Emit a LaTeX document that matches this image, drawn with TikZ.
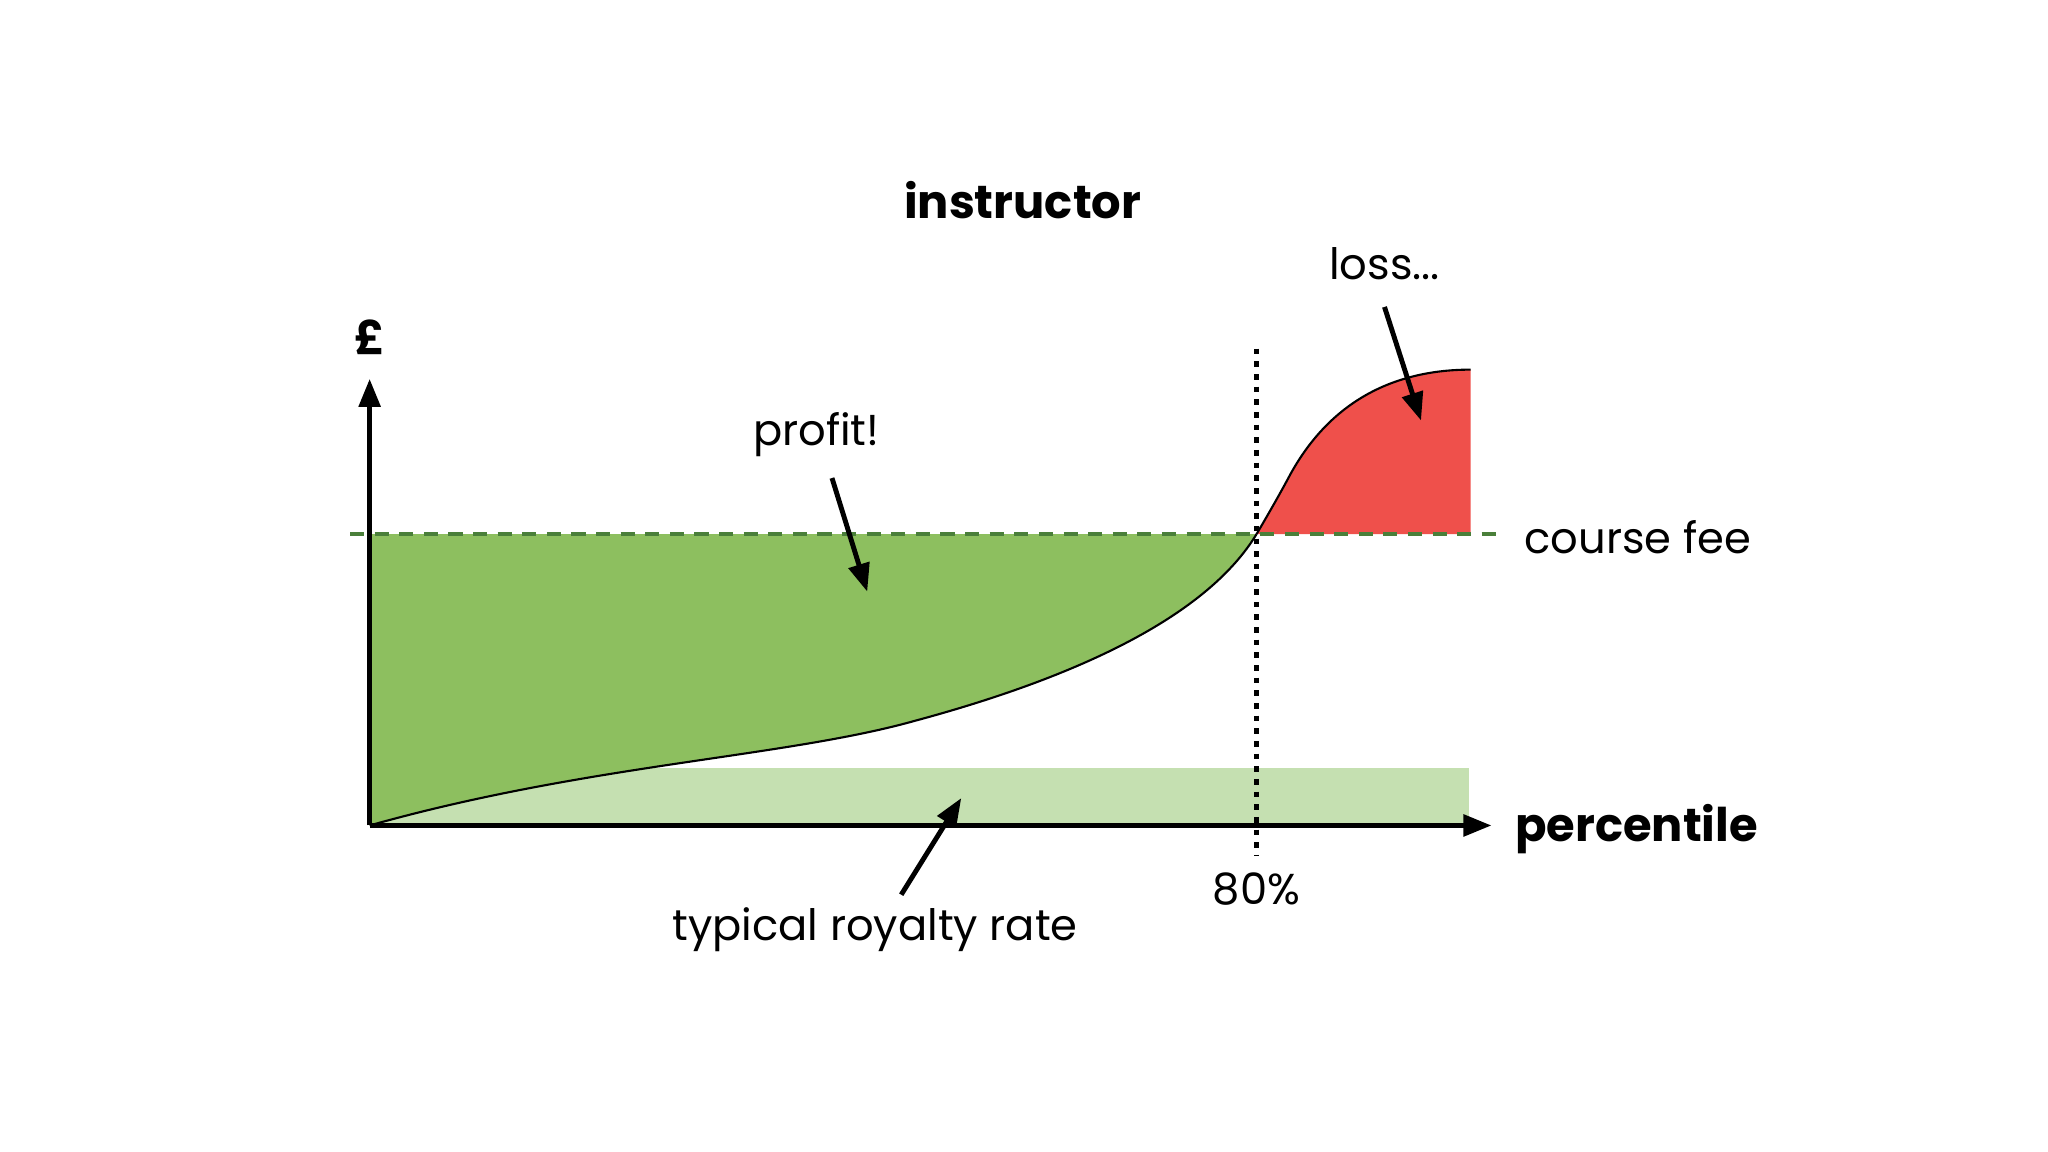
\documentclass[tikz,border=0pt]{standalone}
\usepackage{fontspec}
\setmainfont{Poppins}
\usetikzlibrary{arrows.meta}
\definecolor{gfill}{HTML}{8DBF5F}
\definecolor{lgfill}{HTML}{C5E0B1}
\definecolor{rfill}{HTML}{EF504B}
\definecolor{dgreen}{HTML}{4A7F3A}
\tikzset{lbl/.style={font=\fontsize{12.3}{15}\selectfont},
 blbl/.style={font=\fontsize{13.2}{15}\selectfont\bfseries},
 pointer/.style={-{Triangle[length=8pt,width=6pt]},line width=1.4pt}}
\begin{document}
\begin{tikzpicture}[x=0.013061cm,y=-0.013061cm]
\useasboundingbox (0,0) rectangle (1568,882);
\fill[lgfill] (283,588) rectangle (1125,632);
\coordinate (o) at (283,632);
\coordinate (c80) at (962,409);
\fill[gfill] (o) .. controls (450,585) and (600,580) .. (700,552) .. controls (830,517) and (925,470) .. (c80) -- (283,409) -- cycle;
\draw[line width=0.6pt] (o) .. controls (450,585) and (600,580) .. (700,552) .. controls (830,517) and (925,470) .. (c80);
\fill[rfill] (c80) .. controls (972,392) and (980,378) .. (988,363) .. controls (1020,305) and (1070,283) .. (1126,283) -- (1126,409) -- cycle;
\draw[line width=0.6pt] (c80) .. controls (972,392) and (980,378) .. (988,363) .. controls (1020,305) and (1070,283) .. (1126,283);
\draw[dgreen,line width=1.3pt,dash pattern=on 4pt off 3pt] (268,409) -- (1152,409);
\draw[dotted,line width=1.6pt] (962,267) -- (962,655);
\coordinate (yt) at (283,290);
\coordinate (xt) at (1142,632);
\draw[line width=1.5pt,-{Triangle[length=8pt,width=6pt]}] (o) -- (yt);
\draw[line width=1.5pt,-{Triangle[length=8pt,width=6pt]}] (o) -- (xt);
\node[blbl] (pound) at (283,258) {£};
\node[blbl] (title) at (783,153) {instructor};
\node[blbl] (pct) at (1253,635) {percentile};
\node[lbl] (loss) at (1060,202) {loss...};
\node[lbl] (profit) at (625,333) {profit!};
\node[lbl] (fee) at (1254,411) {course fee};
\node[lbl] (p80) at (962,681) {80\%};
\node[lbl] (roy) at (670,712) {typical royalty rate};
\coordinate (la) at (1060,235); \coordinate (lb) at (1088,322);
\coordinate (pa) at (637,366); \coordinate (pb) at (664,453);
\coordinate (ra) at (690,685); \coordinate (rb) at (736,611);
\draw[pointer] (la) -- (lb);
\draw[pointer] (pa) -- (pb);
\draw[pointer] (ra) -- (rb);
\end{tikzpicture}
\end{document}
